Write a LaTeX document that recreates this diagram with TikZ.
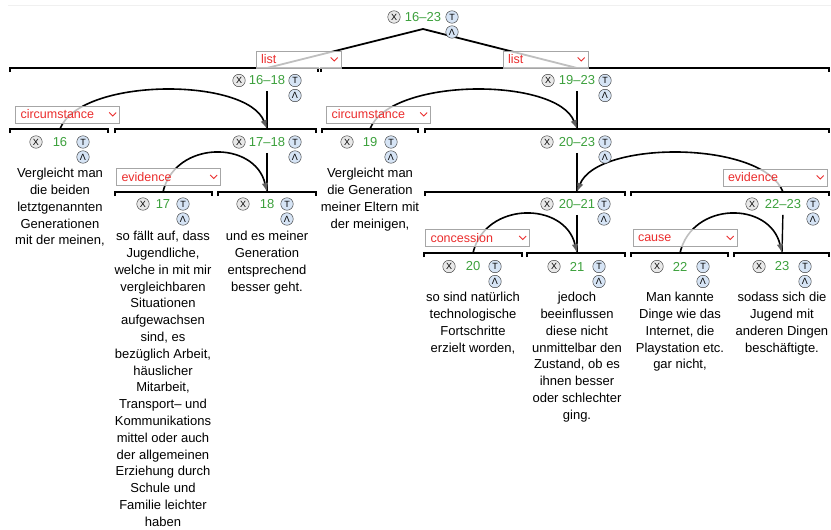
\documentclass[tikz,border=0pt]{standalone}
\usepackage{fontspec}
\setmainfont{Liberation Sans}
\usetikzlibrary{arrows.meta,backgrounds}
\definecolor{numgreen}{RGB}{60,160,60}
\definecolor{relred}{RGB}{235,45,45}
\definecolor{btnblue}{RGB}{214,228,245}

\begin{document}
\begin{tikzpicture}[
  x=1pt, y=-1pt,
  num/.style={text=numgreen, font=\fontsize{13}{13}\selectfont, inner sep=1pt},
  xbtn/.style={circle, draw=black!80, fill=gray!18, minimum size=12.5pt,
               inner sep=0pt, font=\fontsize{9}{9}\selectfont},
  tbtn/.style={xbtn, fill=btnblue},
  txt/.style={anchor=north, align=center, inner sep=0pt,
              font=\fontsize{13}{16.8}\selectfont},
  bar/.style={line width=1.8pt},
  vln/.style={line width=1.4pt, shorten <=5pt},
  tree/.style={line width=1.8pt},
  rel/.style={line width=1.6pt,
              -{Latex[length=9pt,width=6.5pt,color=gray!75!black]}},
  relbox/.style={draw=gray!70, fill=white, fill opacity=0.75, text opacity=1,
                 text=relred, font=\fontsize{12.5}{12.5}\selectfont,
                 text width=94pt, inner xsep=5pt, inner ysep=0pt,
                 minimum height=17pt, align=left},
  chev/.style={relred, line width=0.8pt},
]
\useasboundingbox (0,0) rectangle (831,530);
\draw[gray!12, line width=1pt] (8,5) -- (831,5);

% ---- attachment points on top of each span --------------------------------
\coordinate (apex)  at (423,29);
\coordinate (p1618) at (267,68);
\coordinate (p1923) at (577,68);
\coordinate (p16)   at (60,129);
\coordinate (p1718) at (267,129);
\coordinate (p19)   at (370,129);
\coordinate (p2023) at (577,129);
\coordinate (p17)   at (163,192);
\coordinate (p18)   at (267,192);
\coordinate (p2021) at (577,192);
\coordinate (p2223) at (783,192);
\coordinate (p20)   at (473,253);
\coordinate (p21)   at (577,253);
\coordinate (p22)   at (680,253);
\coordinate (p23)   at (782,253);

% ---- node headers: id, buttons --------------------------------------------
\foreach \n/\t/\x/\y/\d/\e in {
    1623/16–23/423/17/29/29, 1618/16–18/267/80.5/28/28,
    1923/19–23/577/80.5/29/28, 16/16/60/142/24/23,
    1718/17–18/267/142/28/28, 19/19/370/142/23/21,
    2023/20–23/577/142/30/28, 17/17/163/204/20/20,
    18/18/267/204/24/20, 2021/20–21/577/204/30/27,
    2223/22–23/783/204/31/30, 20/20/473/266.5/24/22,
    21/21/577/266.5/23/22, 22/22/680/266.5/23/23,
    23/23/782/266.5/23/23}{
  \node[num] (h\n) at (\x,\y) {\t};
  \node[xbtn] (x\n) at (\x-\d,\y) {X};
  \node[tbtn] (t\n) at (\x+\e,\y) {T};
  \node[tbtn] (l\n) at (\x+\e,\y+15) {Λ};
}

% ---- span bars, tree lines, relation arcs ---------------------------------
\begin{scope}[on background layer]
\draw[bar] (10,72) |- (318,68) -- (318,72);
\draw[bar] (321,72) |- (829,68) -- (829,72);
\draw[bar] (10,133) |- (108,129) -- (108,133);
\draw[bar] (115,133) |- (316,129) -- (316,133);
\draw[bar] (322,133) |- (418,129) -- (418,133);
\draw[bar] (425,133) |- (829,129) -- (829,133);
\draw[bar] (115,196) |- (212,192) -- (212,196);
\draw[bar] (218,196) |- (316,192) -- (316,196);
\draw[bar] (425,196) |- (625,192) -- (625,196);
\draw[bar] (631,196) |- (829,192) -- (829,196);
\draw[bar] (424,257) |- (522,253) -- (522,257);
\draw[bar] (527,257) |- (625,253) -- (625,257);
\draw[bar] (631,257) |- (728,253) -- (728,257);
\draw[bar] (734,257) |- (829,253) -- (829,257);

\draw[tree] (apex) -- (p1618);
\draw[tree] (apex) -- (p1923);

\draw[vln] (h1618.south) -- (p1718);
\draw[vln] (h1923.south) -- (p2023);
\draw[vln] (h1718.south) -- (p18);
\draw[vln] (h2023.south) -- (p2021);
\draw[vln] (h2021.south) -- (p21);
\draw[vln] (h2223.south) -- (p23);

\draw[rel] (p16) .. controls +(20,-52) and +(-20,-52) .. (p1718);
\draw[rel] (p19) .. controls +(20,-52) and +(-20,-52) .. (p2023);
\draw[rel] (p17) .. controls +(12,-52) and +(-12,-52) .. (p18);
\draw[rel] (p2223) .. controls +(-20,-52) and +(20,-52) .. (p2021);
\draw[rel] (p20) .. controls +(12,-52) and +(-12,-52) .. (p21);
\draw[rel] (p22) .. controls +(12,-52) and +(-12,-52) .. (p23);
\end{scope}

% ---- EDU texts -------------------------------------------------------------
\node[txt] (w16) at (60,168)
  {Vergleicht man\\die beiden\\letztgenannten\\Generationen\\mit der meinen,};
\node[txt] (w19) at (370,168)
  {Vergleicht man\\die Generation\\meiner Eltern mit\\der meinigen,};
\node[txt] (w17) at (163,231)
  {so fällt auf, dass\\Jugendliche,\\welche in mit mir\\vergleichbaren\\Situationen\\
   aufgewachsen\\sind, es\\bezüglich Arbeit,\\häuslicher\\Mitarbeit,\\Transport– und\\
   Kommunikations\\mittel oder auch\\der allgemeinen\\Erziehung durch\\Schule und\\
   Familie leichter\\haben};
\node[txt] (w18) at (267,231)
  {und es meiner\\Generation\\entsprechend\\besser geht.};
\node[txt] (w20) at (473,292)
  {so sind natürlich\\technologische\\Fortschritte\\erzielt worden,};
\node[txt] (w21) at (577,292)
  {jedoch\\beeinflussen\\diese nicht\\unmittelbar den\\Zustand, ob es\\ihnen besser\\
   oder schlechter\\ging.};
\node[txt] (w22) at (680,292)
  {Man kannte\\Dinge wie das\\Internet, die\\Playstation etc.\\gar nicht,};
\node[txt] (w23) at (782,292)
  {sodass sich die\\Jugend mit\\anderen Dingen\\beschäftigte.};

% ---- relation selectors ----------------------------------------------------
\node[relbox, text width=75pt] (list1) at (298.5,59.5) {list};
\node[relbox, text width=75pt] (list2) at (545.5,59.5) {list};
\node[relbox] (circ1) at (67.5,114.5) {circumstance};
\node[relbox] (circ2) at (378.5,114.5) {circumstance};
\node[relbox] (evid1) at (168.5,177) {evidence};
\node[relbox] (evid2) at (775,177.5) {evidence};
\node[relbox] (conc) at (477.5,238) {concession};
\node[relbox] (caus) at (685,238) {cause};
\foreach \b in {list1,list2,circ1,circ2,evid1,evid2,conc,caus}
  \draw[chev] ([xshift=-10.5pt, yshift=2pt]\b.east)
    -- ++(3.5pt,-3.5pt) -- ++(3.5pt,3.5pt);

\end{tikzpicture}
\end{document}
